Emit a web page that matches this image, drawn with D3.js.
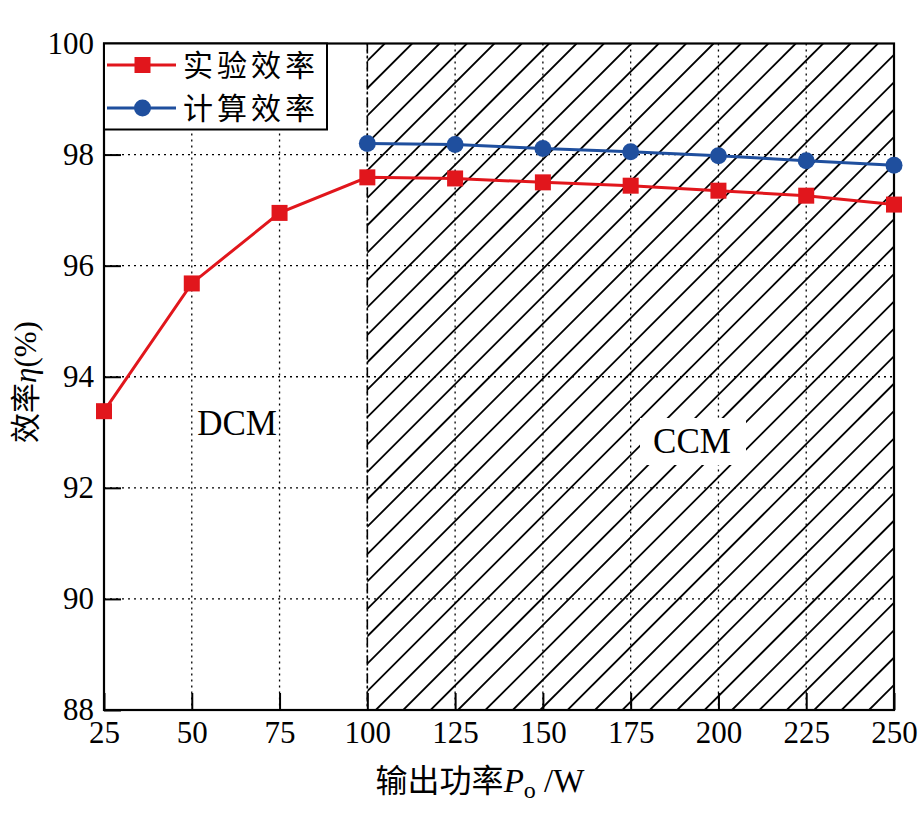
<!DOCTYPE html>
<html><head><meta charset="utf-8">
<script src="https://cdn.jsdelivr.net/npm/d3@7"></script>
<style>body{margin:0;background:#fff}</style>
</head><body>
<svg id="c" width="923" height="825"></svg>
<script>
const powers = [25, 50, 75, 100, 125, 150, 175, 200, 225, 250];
const expEff = [93.38, 95.68, 96.95, 97.59, 97.57, 97.50, 97.44, 97.35, 97.26, 97.10];
const calcPowers = [100, 125, 150, 175, 200, 225, 250];
const calcEff = [98.20, 98.18, 98.11, 98.05, 97.98, 97.89, 97.81];
const xTicks = [25, 50, 75, 100, 125, 150, 175, 200, 225, 250];
const yTicks = [88, 90, 92, 94, 96, 98, 100];
const seriesNames = ["实验效率", "计算效率"];
const regionLabels = ["DCM", "CCM"];

const svg = d3.select("#c");
const L = 104, R = 894, T = 43.5, B = 710;
const x = d3.scaleLinear().domain([25, 250]).range([L, R]);
const y = d3.scaleLinear().domain([88, 100]).range([B, T]);
const serif = "'Liberation Serif','Times New Roman',serif";
const cjk = "'Noto Sans CJK SC','Noto Sans CJK JP',sans-serif";
const red = "#e1161c", blue = "#1f4f9e";

const defs = svg.append("defs");
const clip = defs.append("clipPath").attr("id", "ccmclip");
clip.append("rect").attr("x", x(100)).attr("y", T).attr("width", x(250) - x(100)).attr("height", B - T);

const hatchG = svg.append("g").attr("clip-path", "url(#ccmclip)");
const sp = 27.4;
for (let s = x(100) - (B - T) - 10; s < R + 5; s += sp) {
  hatchG.append("line").attr("x1", s).attr("y1", B).attr("x2", s + (B - T)).attr("y2", T)
    .attr("stroke", "#000").attr("stroke-width", 1.8);
}

// grid
const grid = svg.append("g");
xTicks.slice(1, -1).forEach(v => {
  grid.append("line").attr("x1", x(v)).attr("x2", x(v)).attr("y1", T).attr("y2", B)
    .attr("stroke", "#000").attr("stroke-width", 1.3).attr("stroke-dasharray", "2,4");
});
yTicks.slice(1, -1).forEach(v => {
  grid.append("line").attr("x1", L).attr("x2", R).attr("y1", y(v)).attr("y2", y(v))
    .attr("stroke", "#000").attr("stroke-width", 1.3).attr("stroke-dasharray", "2,4");
});

// CCM white box
svg.append("rect").attr("x", 640).attr("y", 418).attr("width", 106).attr("height", 47).attr("fill", "#fff");

// dash-dot boundary line at 100
svg.append("line").attr("x1", x(100)).attr("x2", x(100)).attr("y1", T).attr("y2", B)
  .attr("stroke", "#000").attr("stroke-width", 1.6).attr("stroke-dasharray", "10,3,2,3");

// axes
const xAxis = d3.axisBottom(x).tickValues(xTicks).tickSize(-17).tickPadding(10).tickFormat(d3.format("d"));
const yAxis = d3.axisLeft(y).tickValues(yTicks).tickSize(-17).tickPadding(10).tickFormat(d3.format("d"));
const gx = svg.append("g").attr("transform", `translate(0,${B})`).call(xAxis);
const gy = svg.append("g").attr("transform", `translate(${L},0)`).call(yAxis);
[gx, gy].forEach(g => {
  g.select(".domain").remove();
  g.selectAll("line").attr("stroke", "#000").attr("stroke-width", 2);
  g.selectAll("text").attr("font-family", serif).attr("font-size", 31).attr("fill", "#000");
});
gx.selectAll("text").attr("dy", "0.71em").attr("y", 11);
gy.selectAll("text").attr("x", -10).attr("dy", "0.32em");
// frame
svg.append("rect").attr("x", L).attr("y", T).attr("width", R - L).attr("height", B - T)
  .attr("fill", "none").attr("stroke", "#000").attr("stroke-width", 2.2);

// series
const line = d3.line().x(d => x(d[0])).y(d => y(d[1]));
const expData = powers.map((p, i) => [p, expEff[i]]);
const calcData = calcPowers.map((p, i) => [p, calcEff[i]]);
svg.append("path").datum(calcData).attr("d", line).attr("fill", "none").attr("stroke", blue).attr("stroke-width", 3);
svg.append("path").datum(expData).attr("d", line).attr("fill", "none").attr("stroke", red).attr("stroke-width", 3);
svg.selectAll(".cm").data(calcData).join("circle").attr("cx", d => x(d[0])).attr("cy", d => y(d[1]))
  .attr("r", 8.5).attr("fill", blue);
svg.selectAll(".sm").data(expData).join("rect").attr("x", d => x(d[0]) - 8).attr("y", d => y(d[1]) - 8)
  .attr("width", 16).attr("height", 16).attr("fill", red);

// region labels
svg.append("text").attr("x", 237).attr("y", 435).attr("text-anchor", "middle").attr("font-family", serif)
  .attr("font-size", 35).text(regionLabels[0]);
svg.append("text").attr("x", 692).attr("y", 453).attr("text-anchor", "middle").attr("font-family", serif)
  .attr("font-size", 35).text(regionLabels[1]);

// legend
const lg = svg.append("g");
lg.append("rect").attr("x", L).attr("y", T).attr("width", 223).attr("height", 86)
  .attr("fill", "#fff").attr("stroke", "#000").attr("stroke-width", 2);
const rows = [{c: red, m: "sq", yy: 65}, {c: blue, m: "ci", yy: 108}];
rows.forEach((r, i) => {
  lg.append("line").attr("x1", 107).attr("x2", 176).attr("y1", r.yy).attr("y2", r.yy)
    .attr("stroke", r.c).attr("stroke-width", 3);
  if (r.m === "sq") lg.append("rect").attr("x", 134.5).attr("y", r.yy - 8).attr("width", 16).attr("height", 16).attr("fill", r.c);
  else lg.append("circle").attr("cx", 142.5).attr("cy", r.yy).attr("r", 8.5).attr("fill", r.c);
  lg.append("text").attr("x", 183).attr("y", r.yy).attr("dy", "0.36em").attr("font-family", cjk)
    .attr("font-size", 30).attr("letter-spacing", 4).attr("fill", "#000").text(seriesNames[i]);
});

// axis titles
const xt = svg.append("text").attr("x", 480).attr("y", 792).attr("text-anchor", "middle").attr("fill", "#000");
xt.append("tspan").attr("font-family", cjk).attr("font-size", 32).text("输出功率");
xt.append("tspan").attr("font-family", serif).attr("font-style", "italic").attr("font-size", 33).text("P");
xt.append("tspan").attr("font-family", serif).attr("font-size", 24).attr("dy", 6).text("o");
xt.append("tspan").attr("font-family", serif).attr("font-size", 33).attr("dy", -6).text(" /W");

const yt = svg.append("text").attr("transform", "translate(36,382) rotate(-90)").attr("text-anchor", "middle").attr("fill", "#000");
yt.append("tspan").attr("font-family", cjk).attr("font-size", 30).text("效率");
yt.append("tspan").attr("font-family", serif).attr("font-style", "italic").attr("font-size", 31).text("η");
yt.append("tspan").attr("font-family", serif).attr("font-size", 31).text("(%)");
</script>
</body></html>
